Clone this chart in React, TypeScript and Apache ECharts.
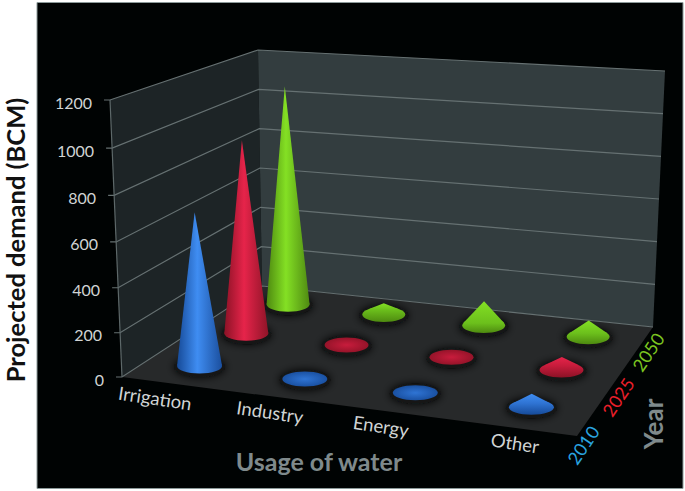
import React, { useEffect, useRef } from "react";
import * as echarts from "echarts";

const categories = ["Irrigation", "Industry", "Energy", "Other"];
const years = ["2010", "2025", "2050"];
const demand2010 = [690, 4, 4, 58];
const demand2025 = [905, 4, 4, 58];
const demand2050 = [1070, 55, 115, 75];
const yTicks = [0, 200, 400, 600, 800, 1000, 1200];
const yMax = 1200;

const FONT = "Lato, 'Open Sans', sans-serif";
const yearColors = ["#2aa5e0", "#ea1f2a", "#7cc520"];
// dark edge, bright highlight, dark edge, mid tone of short cones
const coneShades = [
  ["#164a98", "#3f8df2", "#1b4f9e", "#2f74d4"],
  ["#8c1226", "#e6244a", "#8f1428", "#c81c3c"],
  ["#4e8a10", "#84e024", "#4f8a12", "#6cc01c"],
];
const categoryLabelAt: [number, number][] = [[155, 398], [270, 412], [381, 426], [515, 443]];
const yearLabelAt: [number, number][] = [[583, 445], [618, 397], [648, 352]];

type P = [number, number];
// unit square -> quad: q00 (u0,v0), q10 (u1,v0), q11 (u1,v1), q01 (u0,v1)
function homography(q00: P, q10: P, q11: P, q01: P) {
  const dx1 = q10[0] - q11[0], dx2 = q01[0] - q11[0], sx = q00[0] - q10[0] + q11[0] - q01[0];
  const dy1 = q10[1] - q11[1], dy2 = q01[1] - q11[1], sy = q00[1] - q10[1] + q11[1] - q01[1];
  const den = dx1 * dy2 - dx2 * dy1;
  const g = (sx * dy2 - dx2 * sy) / den;
  const h = (dx1 * sy - sx * dy1) / den;
  const a = q10[0] - q00[0] + g * q10[0], b = q01[0] - q00[0] + h * q01[0], c = q00[0];
  const d = q10[1] - q00[1] + g * q10[1], e = q01[1] - q00[1] + h * q01[1], f = q00[1];
  return (u: number, v: number): P => {
    const w = g * u + h * v + 1;
    return [(a * u + b * v + c) / w, (d * u + e * v + f) / w];
  };
}
const floorMap = homography([122, 377], [577, 436], [653, 327], [262, 286]);
const topMap = homography([110, 100], [587, 132], [665, 71], [258, 50]);
function project(u: number, v: number, value: number): P {
  const f = floorMap(u, v), t = topMap(u, v), r = value / yMax;
  const k = r * (1 - 0.05 * (1 - r) * (1 - v));
  return [f[0] + (t[0] - f[0]) * k, f[1] + (t[1] - f[1]) * k];
}

function wallsItem(_: any, api: any) {
  const c = (p: P) => api.coord(p);
  const poly = (pts: P[], fill: string) => ({ type: "polygon", shape: { points: pts.map(c) }, style: { fill } });
  return {
    type: "group",
    children: [
      poly([project(0, 0, 0), project(0, 0, yMax), project(0, 1, yMax), project(0, 1, 0)], "#1d2426"),
      poly([project(0, 1, 0), project(0, 1, yMax), project(1, 1, yMax), project(1, 1, 0)], "#333d3f"),
      poly([project(0, 0, 0), project(1, 0, 0), project(1, 1, 0), project(0, 1, 0)], "#27292a"),
    ],
  };
}
function gridItem(_: any, api: any) {
  const val = api.value(0);
  const c = (p: P) => api.coord(p);
  const tickEnd = project(0, 0, val);
  return {
    type: "polyline",
    shape: { points: [[tickEnd[0] - 6, tickEnd[1]], project(0, 0, val), project(0, 1, val), project(1, 1, val)].map((p: any) => c(p)) },
    style: { stroke: "#667172", lineWidth: 1.2, fill: "none" },
  };
}
function edgeItem(_: any, api: any) {
  const c = (p: P) => api.coord(p);
  return {
    type: "polyline",
    shape: { points: [project(0, 0, 0), project(0, 0, yMax)].map(c) },
    style: { stroke: "#5d6869", lineWidth: 1.2, fill: "none" },
  };
}

function coneItem(yearIdx: number) {
  return (_: any, api: any) => {
    const catIdx = api.value(0);
    const val = api.value(1);
    const u = (catIdx + 0.5) / categories.length;
    const v = (yearIdx + 0.5) / years.length;
    const base = api.coord(project(u, v, 0));
    const apex = api.coord(project(u, v, val));
    const rx = 22.5 - yearIdx * 0.5;
    const ry = 7.5;
    const shade = coneShades[yearIdx];
    const dy = base[1] - apex[1];
    const tall = dy > 40;
    const hasTip = dy > ry;
    const ty = hasTip ? (ry * ry) / dy : 0;
    const seam = (ry - ty) / (2 * ry);
    const side = {
      type: "linear", x: 0, y: 0, x2: 1, y2: 0,
      colorStops: [
        { offset: 0, color: shade[0] },
        { offset: 0.45, color: shade[1] },
        { offset: 1, color: shade[2] },
      ],
    };
    const flatDisc = {
      type: "radial", x: 0.5, y: 0.5, r: 0.6,
      colorStops: [
        { offset: 0, color: shade[3] },
        { offset: 1, color: shade[0] },
      ],
    };
    const shortDisc = {
      type: "linear", x: 0, y: 0, x2: 0, y2: 1,
      colorStops: [
        { offset: 0, color: shade[3] },
        { offset: seam, color: shade[3] },
        { offset: 1, color: shade[0] },
      ],
    };
    const slope = {
      type: "linear", x: 0, y: 0, x2: 0, y2: 1,
      colorStops: [
        { offset: 0, color: shade[1] },
        { offset: 1, color: shade[3] },
      ],
    };
    const children: any[] = [
      { type: "ellipse", shape: { cx: base[0], cy: base[1] + 1, rx: rx + 3, ry: ry + 2.5 }, style: { fill: "#131617", shadowBlur: 9, shadowColor: "#0c0e0f" } },
      { type: "ellipse", shape: { cx: base[0], cy: base[1], rx, ry }, style: { fill: tall ? side : hasTip ? shortDisc : flatDisc } },
    ];
    if (hasTip) {
      const tx = rx * Math.sqrt(1 - (ry * ry) / (dy * dy));
      const lean = (apex[0] - base[0]) / dy;
      children.push({
        type: "polygon",
        shape: { points: [apex, [base[0] + tx + lean * ty, base[1] - ty], [base[0] - tx + lean * ty, base[1] - ty]] },
        style: { fill: tall ? side : slope },
      });
    }
    return { type: "group", children };
  };
}

const series: any[] = [
  { type: "custom", name: "walls", renderItem: wallsItem, data: [[0, 0]], silent: true, clip: false, z: 1, encode: { x: 0, y: 1 } },
  { type: "custom", name: "grid", renderItem: gridItem, data: yTicks.map((t) => [t, 0]), silent: true, clip: false, z: 2, encode: { x: 0, y: 1 } },
  { type: "custom", name: "edge", renderItem: edgeItem, data: [[0, 0]], silent: true, clip: false, z: 2, encode: { x: 0, y: 1 } },
  { type: "custom", name: "2050", renderItem: coneItem(2), data: demand2050.map((d, i) => [i, d]), silent: true, clip: false, z: 3, encode: { x: 0, y: 1 } },
  { type: "custom", name: "2025", renderItem: coneItem(1), data: demand2025.map((d, i) => [i, d]), silent: true, clip: false, z: 4, encode: { x: 0, y: 1 } },
  { type: "custom", name: "2010", renderItem: coneItem(0), data: demand2010.map((d, i) => [i, d]), silent: true, clip: false, z: 5, encode: { x: 0, y: 1 } },
];

function buildTexts() {
  const out: any[] = [];
  const text = (t: string, x: number, y: number, size: number, fill: string, opts: any = {}) =>
    out.push({
      type: "text", x, y, z: 100, rotation: opts.rotation || 0,
      style: { text: t, fontSize: size, fontFamily: FONT, fontWeight: opts.bold ? "bold" : "normal", fill, textAlign: opts.align || "center", textVerticalAlign: "middle" },
    });
  yTicks.forEach((t) => {
    const p = project(0, 0, t);
    text(String(t), p[0] - 18, p[1] + 2, 16, "#d0d4d4", { align: "right" });
  });
  categories.forEach((c, i) => {
    text(c, categoryLabelAt[i][0], categoryLabelAt[i][1], 18.5, "#d0d4d4", { rotation: -0.15 });
  });
  years.forEach((y, j) => {
    text(y, yearLabelAt[j][0], yearLabelAt[j][1], 18, yearColors[j], { rotation: 0.98 });
  });
  text("Projected demand (BCM)", 15, 240, 25.5, "#111111", { rotation: Math.PI / 2, bold: true });
  text("Usage of water", 319, 461, 25, "#7f8a8c", { bold: true });
  text("Year", 653, 424, 26, "#7f8a8c", { rotation: Math.PI / 2, bold: true });
  return out;
}

export default function App() {
  const ref = useRef<HTMLDivElement>(null);
  useEffect(() => {
    const chart = echarts.init(ref.current!, undefined, { renderer: "svg" });
    chart.setOption({
      animation: false,
      backgroundColor: "#ffffff",
      grid: { left: 0, right: 0, top: 0, bottom: 0 },
      xAxis: { type: "value", min: 0, max: 685, show: false },
      yAxis: { type: "value", min: 0, max: 491, inverse: true, show: false },
      graphic: [
        { type: "rect", z: -10, shape: { x: 37, y: 2.5, width: 646, height: 486 }, style: { fill: "#000303", stroke: "#8c9a9a", lineWidth: 1 } },
        ...buildTexts(),
      ],
      series,
    });
    return () => chart.dispose();
  }, []);
  return <div ref={ref} style={{ position: "fixed", left: 0, top: 0, width: 685, height: 491 }} />;
}
